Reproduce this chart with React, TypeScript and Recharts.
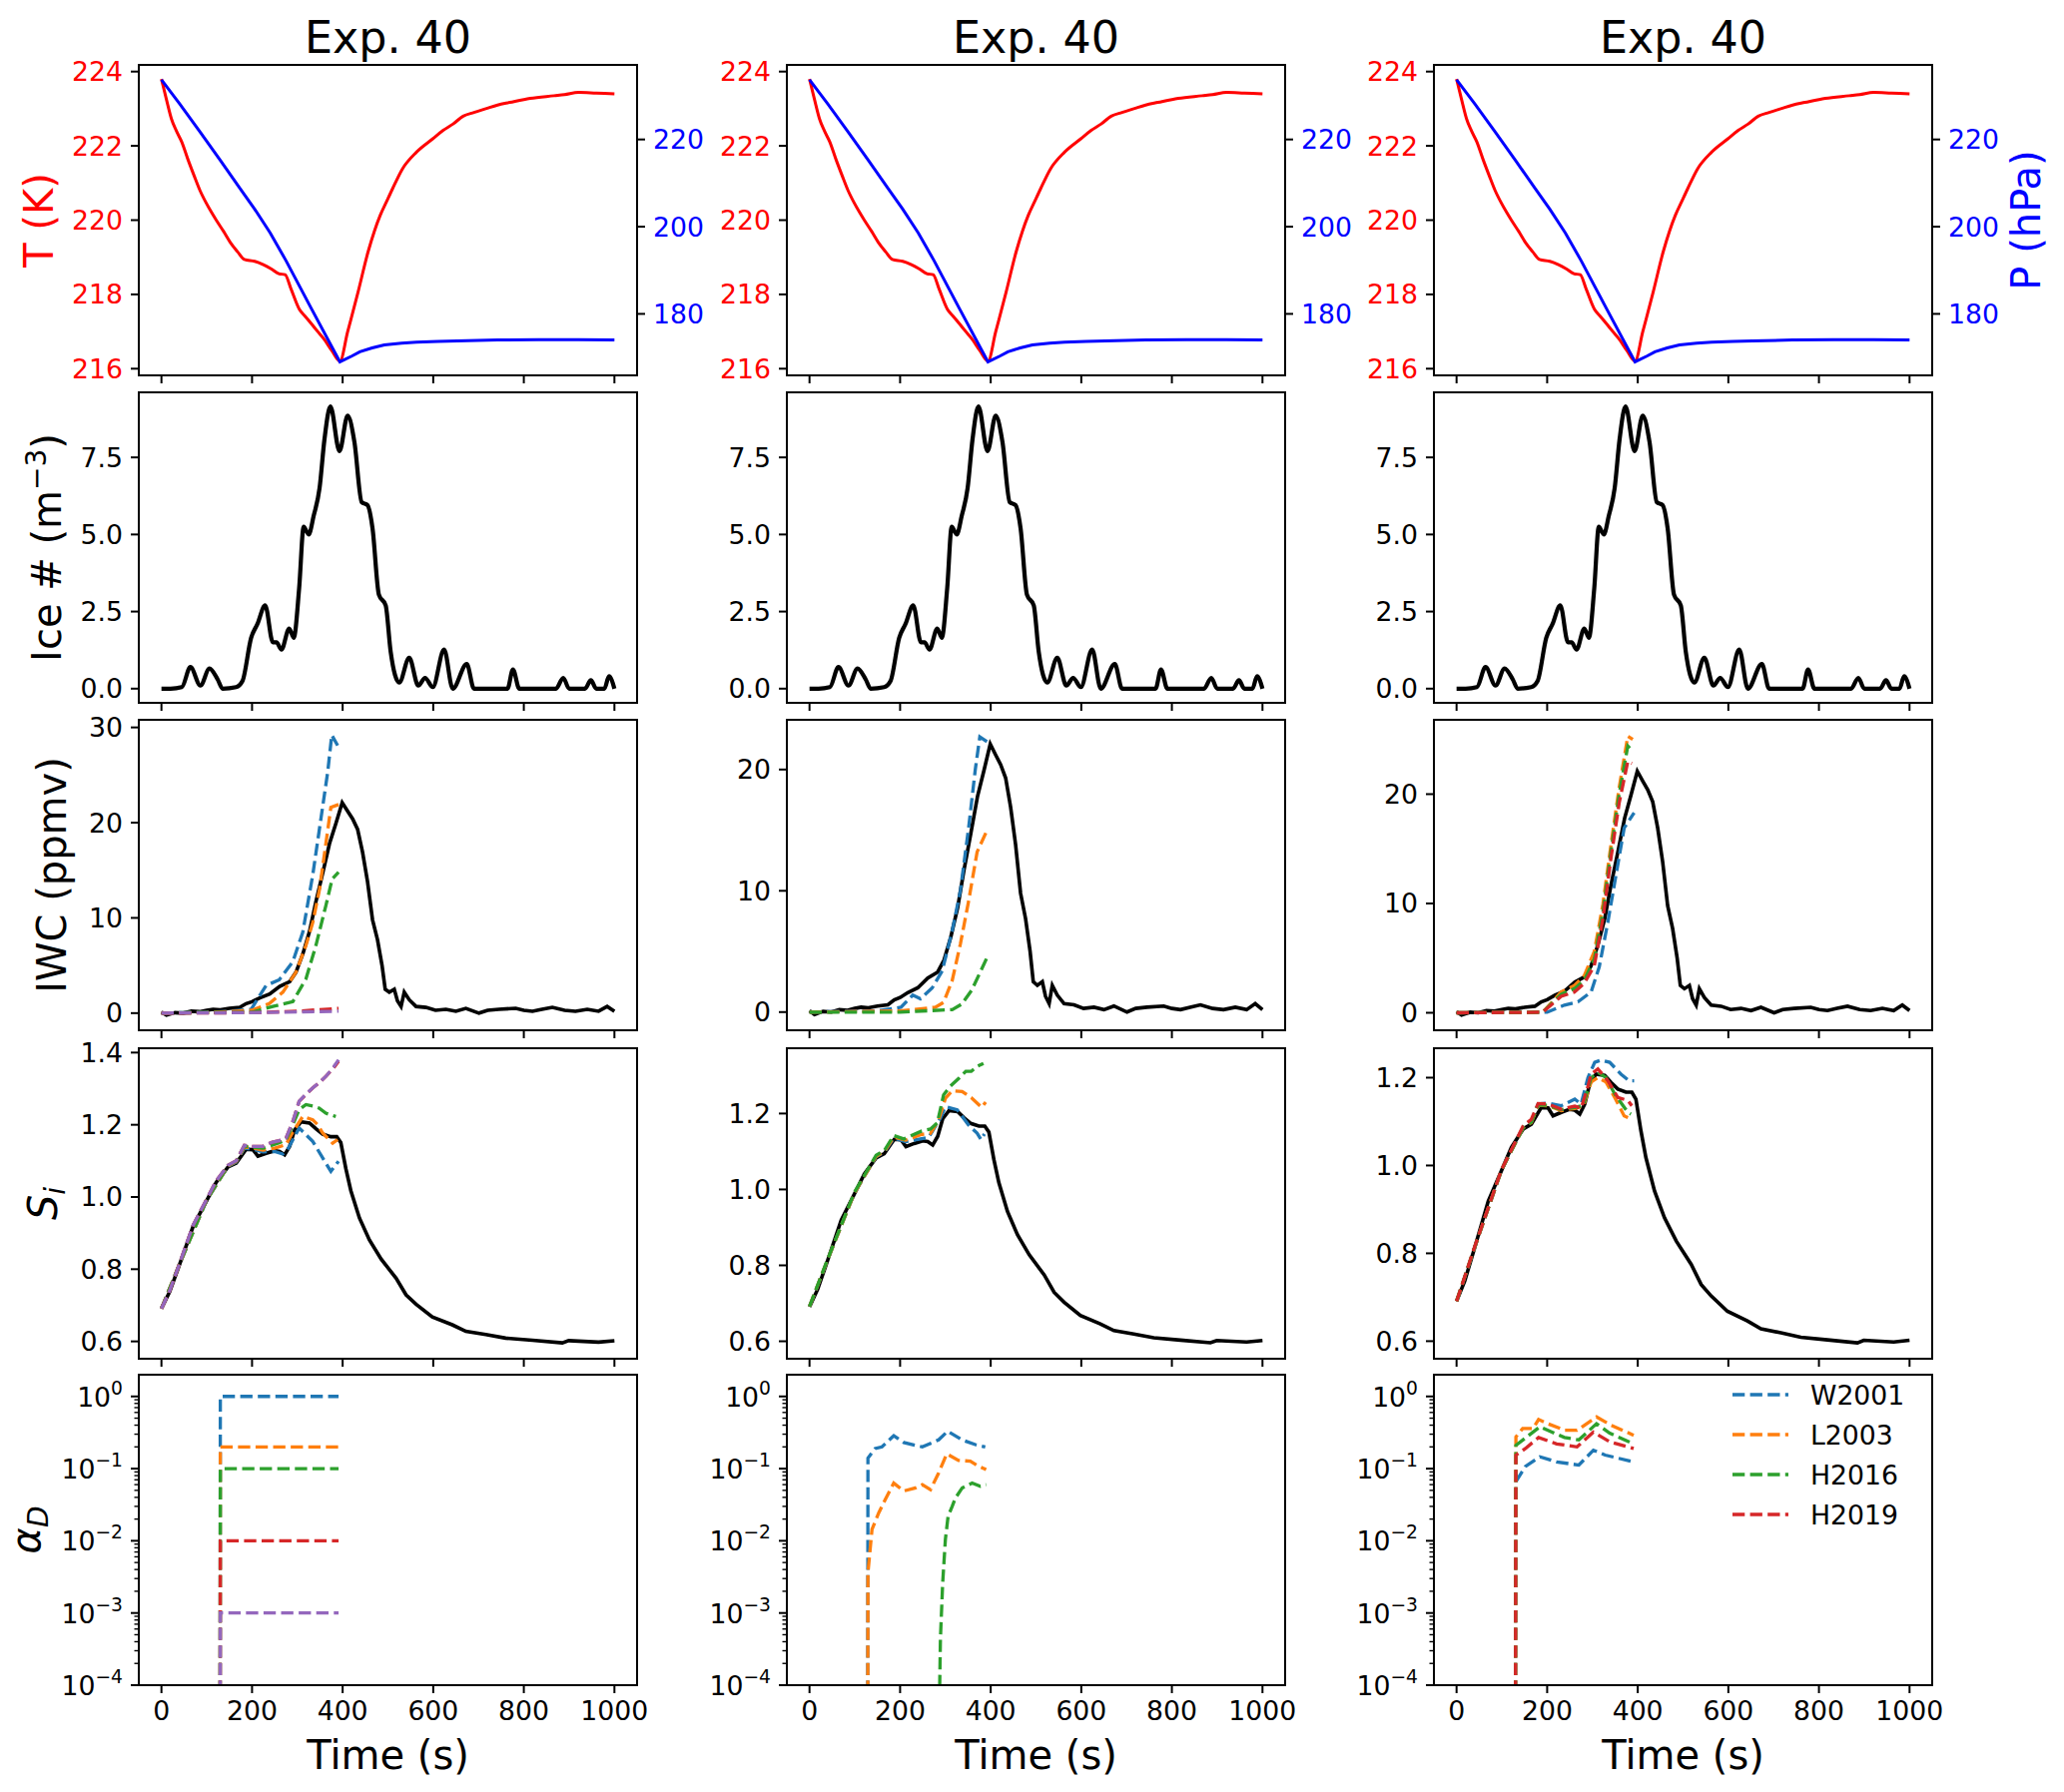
import React from 'react'
import { LineChart, Line, XAxis, YAxis, Legend } from 'recharts'

type Pt = [number, number]

// chamber record (identical in the three columns)
const tempK: Pt[] = [
  [0, 223.8], [11, 223.25], [22, 222.73], [33, 222.4], [45, 222.1], [58, 221.65], [72, 221.2], [85, 220.8],
  [98, 220.48], [110, 220.22], [121, 220.0], [137, 219.7], [152, 219.4], [168, 219.15],
  [183, 218.94], [206, 218.89], [225, 218.8], [242, 218.69], [259, 218.56], [273, 218.53], [286, 218.15],
  [304, 217.61], [318, 217.4], [331, 217.21], [345, 217.0], [358, 216.81], [376, 216.49], [394, 216.2], [411, 216.99],
  [434, 218.06], [456, 219.14], [470, 219.7], [483, 220.13], [497, 220.5], [510, 220.84], [532, 221.38], [563, 221.83],
  [599, 222.19], [622, 222.42], [644, 222.59], [666, 222.8], [690, 222.9], [716, 223.0], [742, 223.1], [769, 223.17], [814, 223.28],
  [867, 223.35], [890, 223.38], [921, 223.44], [960, 223.42], [1000, 223.4],
]
const pressHPa: Pt[] = [
  [0, 233.7], [40, 228.2], [86, 221.6], [130, 215.2], [174, 208.7], [206, 204.0], [240, 198.6],
  [275, 192.2], [331, 181.2], [394, 169.0], [420, 170.3], [438, 171.3], [465, 172.2], [492, 172.9],
  [530, 173.3], [563, 173.5], [610, 173.7], [653, 173.8], [742, 174.0], [832, 174.1], [920, 174.1], [1000, 174.0],
]
const iceNumber: Pt[] = [
  [0, 0], [20, 0], [45, 0.05], [64, 0.7], [86, 0.1], [106, 0.65], [124, 0.3], [135, 0], [165, 0.05],
  [179, 0.25], [198, 1.65], [212, 2.1], [229, 2.7], [246, 1.5], [254, 1.5], [265, 1.27], [282, 1.95],
  [292, 1.65], [304, 3.26], [314, 5.25], [325, 5.0], [336, 5.6], [349, 6.5], [360, 8.1], [373, 9.15],
  [393, 7.7], [411, 8.85], [426, 8.0], [442, 6.05], [455, 5.95], [466, 5.2], [480, 3.05], [495, 2.7],
  [506, 1.2], [525, 0.2], [547, 1.0], [567, 0.1], [582, 0.35], [599, 0.05], [624, 1.27], [643, 0],
  [674, 0.8], [690, 0], [764, 0], [776, 0.62], [790, 0], [871, 0], [887, 0.35], [900, 0], [935, 0],
  [948, 0.27], [960, 0], [978, 0], [988, 0.4], [1000, 0],
]
const iwcObs: Pt[] = [
  [0, 0.1], [11, -0.2], [30, 0.05], [48, 0], [66, 0.2], [84, 0.15], [100, 0.3], [114, 0.4], [130, 0.35],
  [150, 0.5], [173, 0.6], [187, 1.0], [200, 1.2], [217, 1.6], [239, 2.0], [261, 2.8], [283, 3.3],
  [297, 4.3], [312, 6.2], [327, 8.6], [341, 11.7], [356, 14.7], [371, 17.8], [385, 19.9], [399, 22.1],
  [411, 21.2], [422, 20.4], [433, 19.3], [444, 16.9], [455, 13.8], [466, 9.8], [477, 7.7], [487, 5.0],
  [494, 2.5], [503, 2.2], [514, 2.5], [521, 1.3], [529, 0.7], [536, 2.2], [547, 1.4], [562, 0.7],
  [584, 0.6], [605, 0.3], [628, 0.4], [650, 0.2], [672, 0.5], [701, 0], [720, 0.3], [745, 0.4],
  [782, 0.5], [800, 0.3], [819, 0.2], [840, 0.4], [863, 0.6], [890, 0.3], [914, 0.2], [940, 0.4],
  [965, 0.2], [984, 0.7], [1000, 0.2],
]
const siObs: Pt[] = [
  [0, 0.691], [18, 0.737], [40, 0.813], [70, 0.919], [99, 0.988], [121, 1.041], [147, 1.083],
  [165, 1.094], [187, 1.132], [202, 1.131], [213, 1.113], [231, 1.121], [250, 1.128], [261, 1.126],
  [272, 1.117], [283, 1.14], [294, 1.186], [308, 1.208], [327, 1.205], [341, 1.189], [356, 1.174],
  [374, 1.167], [387, 1.167], [396, 1.151], [407, 1.079], [418, 1.018], [437, 0.942], [459, 0.881],
  [485, 0.828], [518, 0.775], [540, 0.729], [562, 0.703], [598, 0.668], [642, 0.646], [672, 0.628],
  [716, 0.619], [760, 0.609], [819, 0.603], [885, 0.596], [899, 0.602], [965, 0.598], [1000, 0.602],
]

// column 1 models
const iwcW2001A: Pt[] = [[0, 0], [100, 0.1], [150, 0.2], [198, 0.4], [231, 2.9], [260, 3.5], [290, 5.4], [312, 8.5], [334, 14.5], [352, 20.4], [367, 25.3], [376, 29.2], [389, 28.1]]
const iwcL2003A: Pt[] = [[0, 0], [100, 0.05], [200, 0.3], [238, 1.0], [268, 2.2], [297, 4.3], [319, 7.1], [334, 9.5], [349, 13.0], [363, 17.8], [374, 21.6], [391, 21.9]]
const iwcH2016A: Pt[] = [[0, 0], [200, 0.1], [246, 0.7], [290, 1.2], [319, 3.6], [341, 7.1], [363, 11.3], [377, 14.1], [391, 14.8]]
const iwcH2019A: Pt[] = [[0, 0], [200, 0.05], [300, 0.2], [391, 0.5]]
const iwcExtraA: Pt[] = [[0, 0], [200, 0.05], [391, 0.2]]
const siW2001A: Pt[] = [[0, 0.691], [40, 0.814], [99, 0.989], [147, 1.085], [165, 1.097], [183, 1.135], [202, 1.132], [224, 1.125], [250, 1.126], [268, 1.119], [280, 1.135], [304, 1.191], [334, 1.154], [356, 1.108], [374, 1.071], [391, 1.099]]
const siL2003A: Pt[] = [[0, 0.691], [40, 0.815], [99, 0.99], [147, 1.086], [165, 1.098], [183, 1.138], [202, 1.136], [224, 1.13], [250, 1.135], [275, 1.145], [290, 1.18], [312, 1.223], [334, 1.214], [345, 1.2], [356, 1.177], [378, 1.149], [389, 1.159]]
const siH2016A: Pt[] = [[0, 0.691], [40, 0.815], [99, 0.99], [147, 1.087], [165, 1.099], [183, 1.14], [224, 1.135], [260, 1.15], [275, 1.158], [290, 1.2], [304, 1.242], [319, 1.256], [335, 1.252], [348, 1.246], [363, 1.232], [385, 1.223]]
const siH2019A: Pt[] = [[0, 0.691], [18, 0.74], [40, 0.816], [70, 0.922], [99, 0.992], [121, 1.045], [147, 1.088], [165, 1.1], [183, 1.143], [200, 1.14], [224, 1.14], [245, 1.152], [260, 1.156], [275, 1.163], [290, 1.209], [304, 1.265], [320, 1.285], [334, 1.302], [350, 1.318], [363, 1.334], [380, 1.357], [391, 1.376]]
const siExtraA: Pt[] = [[0, 0.691], [18, 0.74], [40, 0.816], [70, 0.922], [99, 0.992], [121, 1.045], [147, 1.088], [165, 1.1], [183, 1.143], [200, 1.14], [224, 1.14], [245, 1.152], [260, 1.156], [275, 1.163], [290, 1.209], [304, 1.265], [320, 1.286], [334, 1.302], [350, 1.319], [363, 1.334], [380, 1.36], [391, 1.38]]
const alphaW2001A: Pt[] = [[129, 1e-8], [130, 1], [391, 1]]
const alphaL2003A: Pt[] = [[129, 1e-8], [130, 0.2], [391, 0.2]]
const alphaH2016A: Pt[] = [[129, 1e-8], [130, 0.1], [391, 0.1]]
const alphaH2019A: Pt[] = [[129, 1e-8], [130, 0.01], [391, 0.01]]
const alphaExtraA: Pt[] = [[129, 1e-8], [130, 0.001], [391, 0.001]]

// column 2 models
const iwcW2001B: Pt[] = [[0, 0], [150, 0.1], [202, 0.4], [228, 1.4], [245, 1.1], [271, 2.0], [293, 3.4], [315, 6.7], [333, 10.0], [351, 15.1], [366, 20.0], [376, 22.7], [392, 22.3]]
const iwcL2003B: Pt[] = [[0, 0], [200, 0.1], [278, 0.4], [296, 0.8], [315, 2.6], [333, 5.6], [351, 9.1], [370, 13.2], [392, 15.0]]
const iwcH2016B: Pt[] = [[0, 0], [200, 0], [315, 0.2], [336, 0.65], [358, 1.8], [377, 3.3], [392, 4.5]]
const siW2001B: Pt[] = [[0, 0.692], [40, 0.815], [99, 0.99], [147, 1.086], [165, 1.098], [186, 1.135], [212, 1.126], [263, 1.137], [289, 1.188], [300, 1.218], [326, 1.21], [351, 1.17], [370, 1.148], [379, 1.131], [386, 1.146]]
const siL2003B: Pt[] = [[0, 0.692], [40, 0.815], [99, 0.99], [147, 1.087], [165, 1.099], [186, 1.138], [212, 1.13], [248, 1.145], [267, 1.148], [285, 1.183], [300, 1.24], [315, 1.26], [337, 1.258], [359, 1.24], [380, 1.216], [389, 1.23]]
const siH2016B: Pt[] = [[0, 0.692], [40, 0.816], [99, 0.992], [147, 1.09], [165, 1.102], [186, 1.142], [208, 1.133], [248, 1.154], [267, 1.159], [282, 1.175], [296, 1.249], [310, 1.271], [330, 1.293], [345, 1.311], [357, 1.311], [370, 1.324], [384, 1.332]]
const alphaW2001B: Pt[] = [[128, 1e-8], [129, 0.14], [145, 0.19], [160, 0.2], [186, 0.286], [208, 0.23], [249, 0.2], [285, 0.25], [305, 0.33], [337, 0.25], [366, 0.215], [388, 0.2]]
const alphaL2003B: Pt[] = [[128, 1e-8], [129, 0.0036], [138, 0.0144], [153, 0.0245], [167, 0.037], [186, 0.063], [208, 0.049], [234, 0.054], [249, 0.06], [267, 0.051], [285, 0.087], [303, 0.16], [329, 0.13], [355, 0.127], [373, 0.108], [390, 0.097]]
const alphaH2016B: Pt[] = [[285, 1e-5], [289, 4.4e-4], [294, 0.0026], [300, 0.0105], [306, 0.022], [315, 0.03], [322, 0.039], [337, 0.054], [359, 0.063], [377, 0.057], [390, 0.06]]

// column 3 models
const iwcW2001C: Pt[] = [[0, 0], [200, 0.05], [238, 0.7], [268, 1.0], [297, 1.9], [315, 4.2], [334, 8.3], [352, 12.6], [370, 16.9], [392, 18.3]]
const iwcL2003C: Pt[] = [[0, 0], [190, 0.05], [231, 1.9], [260, 2.5], [282, 3.4], [304, 5.6], [323, 9.9], [341, 15.4], [359, 20.6], [378, 25.3], [389, 25.0]]
const iwcH2016C: Pt[] = [[0, 0], [190, 0.05], [231, 1.7], [260, 2.2], [282, 3.0], [304, 4.9], [323, 9.2], [341, 14.8], [359, 20.0], [378, 24.4], [389, 23.9]]
const iwcH2019C: Pt[] = [[0, 0], [190, 0.05], [231, 1.5], [260, 1.9], [282, 2.7], [304, 4.3], [323, 8.6], [341, 14.2], [359, 19.2], [378, 23.0], [387, 22.8]]
const siW2001C: Pt[] = [[0, 0.691], [40, 0.814], [99, 0.989], [147, 1.087], [165, 1.1], [180, 1.14], [202, 1.142], [231, 1.136], [261, 1.151], [275, 1.14], [290, 1.2], [305, 1.235], [319, 1.24], [338, 1.235], [363, 1.208], [381, 1.193], [392, 1.193]]
const siL2003C: Pt[] = [[0, 0.691], [40, 0.814], [99, 0.989], [147, 1.086], [165, 1.098], [180, 1.137], [202, 1.136], [231, 1.125], [261, 1.13], [280, 1.135], [297, 1.19], [312, 1.2], [330, 1.19], [349, 1.155], [370, 1.113], [385, 1.106]]
const siH2016C: Pt[] = [[0, 0.691], [40, 0.814], [99, 0.989], [147, 1.086], [165, 1.099], [180, 1.138], [202, 1.137], [231, 1.127], [261, 1.132], [280, 1.137], [297, 1.2], [312, 1.212], [330, 1.2], [349, 1.163], [378, 1.121], [385, 1.117]]
const siH2019C: Pt[] = [[0, 0.691], [40, 0.815], [99, 0.99], [147, 1.09], [165, 1.105], [180, 1.141], [202, 1.14], [231, 1.128], [261, 1.135], [275, 1.13], [290, 1.18], [297, 1.208], [312, 1.22], [334, 1.193], [356, 1.155], [378, 1.148], [387, 1.136]]
const alphaW2001C: Pt[] = [[129, 1e-8], [131, 0.066], [152, 0.107], [184, 0.146], [221, 0.124], [270, 0.112], [302, 0.18], [328, 0.154], [391, 0.124]]
const alphaL2003C: Pt[] = [[129, 1e-8], [131, 0.275], [146, 0.36], [169, 0.36], [181, 0.48], [201, 0.42], [239, 0.34], [266, 0.34], [309, 0.52], [341, 0.4], [391, 0.29]]
const alphaH2016C: Pt[] = [[129, 1e-8], [131, 0.21], [184, 0.38], [238, 0.27], [270, 0.25], [309, 0.42], [338, 0.31], [391, 0.22]]
const alphaH2019C: Pt[] = [[129, 1e-8], [131, 0.154], [152, 0.19], [181, 0.27], [221, 0.22], [266, 0.2], [302, 0.32], [338, 0.235], [391, 0.19]]

const timeTicks = [0, 200, 400, 600, 800, 1000]
const tempTicks = [216, 218, 220, 222, 224]
const pressTicks = [180, 200, 220]
const iceTicks = [0, 2.5, 5, 7.5]
const iwcTicksA = [0, 10, 20, 30]
const iwcTicksB = [0, 10, 20]
const siTicksA = [0.6, 0.8, 1.0, 1.2, 1.4]
const siTicksB = [0.6, 0.8, 1.0, 1.2]
const legendNames = ['W2001', 'L2003', 'H2016', 'H2019']

const colors: Record<string, string> = {
  W2001: '#1f77b4',
  L2003: '#ff7f0e',
  H2016: '#2ca02c',
  H2019: '#d62728',
  extra: '#9467bd',
}

// log axis ticks: decades plus 2..9 minors
const alphaTicks: number[] = []
for (let e = -4; e <= 0; e++) {
  for (let k = 1; k <= 9; k++) {
    const v = k * Math.pow(10, e)
    if (v < 1.99) alphaTicks.push(v)
  }
}

const FONT = 'DejaVu Sans, Verdana, sans-serif'
const TICK_FS = 26.7
const LABEL_FS = 40
const TICK_LEN = 8
const TICK_PAD = 8
const AX_L = 140
const AX_R = 120
const RM = 10
const TOP_M = 12
const AX_B = 60
const PW = 499
const PH = 311
const colLeft = [139, 788, 1436]
const rowTop = [65, 393, 721, 1050, 1377]
const DASH = '12.3 5.3'

type Model = { name: string; pts: Pt[] }

const toRows = (pts: Pt[]) => pts.map(([t, v]) => ({ t, v }))
const oneDecimal = (v: number) => v.toFixed(1)

const columns = [
  {
    iwcDomain: [-1.8, 30.8] as [number, number], iwcTicks: iwcTicksA,
    siDomain: [0.552, 1.412] as [number, number], siTicks: siTicksA,
    iwc: [
      { name: 'W2001', pts: iwcW2001A }, { name: 'L2003', pts: iwcL2003A }, { name: 'H2016', pts: iwcH2016A },
      { name: 'H2019', pts: iwcH2019A }, { name: 'extra', pts: iwcExtraA },
    ],
    si: [
      { name: 'W2001', pts: siW2001A }, { name: 'L2003', pts: siL2003A }, { name: 'H2016', pts: siH2016A },
      { name: 'H2019', pts: siH2019A }, { name: 'extra', pts: siExtraA },
    ],
    alpha: [
      { name: 'W2001', pts: alphaW2001A }, { name: 'L2003', pts: alphaL2003A }, { name: 'H2016', pts: alphaH2016A },
      { name: 'H2019', pts: alphaH2019A }, { name: 'extra', pts: alphaExtraA },
    ],
  },
  {
    iwcDomain: [-1.5, 24.1] as [number, number], iwcTicks: iwcTicksB,
    siDomain: [0.554, 1.372] as [number, number], siTicks: siTicksB,
    iwc: [{ name: 'W2001', pts: iwcW2001B }, { name: 'L2003', pts: iwcL2003B }, { name: 'H2016', pts: iwcH2016B }],
    si: [{ name: 'W2001', pts: siW2001B }, { name: 'L2003', pts: siL2003B }, { name: 'H2016', pts: siH2016B }],
    alpha: [{ name: 'W2001', pts: alphaW2001B }, { name: 'L2003', pts: alphaL2003B }, { name: 'H2016', pts: alphaH2016B }],
  },
  {
    iwcDomain: [-1.6, 26.8] as [number, number], iwcTicks: iwcTicksB,
    siDomain: [0.56, 1.267] as [number, number], siTicks: siTicksB,
    iwc: [
      { name: 'W2001', pts: iwcW2001C }, { name: 'L2003', pts: iwcL2003C },
      { name: 'H2016', pts: iwcH2016C }, { name: 'H2019', pts: iwcH2019C },
    ],
    si: [
      { name: 'W2001', pts: siW2001C }, { name: 'L2003', pts: siL2003C },
      { name: 'H2016', pts: siH2016C }, { name: 'H2019', pts: siH2019C },
    ],
    alpha: [
      { name: 'W2001', pts: alphaW2001C }, { name: 'L2003', pts: alphaL2003C },
      { name: 'H2016', pts: alphaH2016C }, { name: 'H2019', pts: alphaH2019C },
    ],
  },
]

const tickStyle = (fill: string) => ({ fill, fontSize: TICK_FS, fontFamily: FONT })
const tickLineStyle = { stroke: '#000', strokeWidth: 2 }

function timeAxis(showLabels: boolean) {
  return {
    type: 'number' as const,
    dataKey: 't',
    domain: [-50, 1050],
    ticks: timeTicks,
    interval: 0 as const,
    allowDataOverflow: true,
    axisLine: false,
    tickSize: TICK_LEN,
    tickMargin: TICK_PAD,
    height: AX_B,
    tickLine: tickLineStyle,
    tick: tickStyle('#000'),
    tickFormatter: showLabels ? (v: number) => String(v) : () => '',
  }
}

// decade labels as 10^n with minor ticks drawn shorter
function LogTick(props: any) {
  const { x, y, payload } = props
  const v = payload.value as number
  const lg = Math.log10(v)
  const e = Math.round(lg)
  const major = Math.abs(lg - e) < 1e-6
  const edge = x + TICK_LEN + TICK_PAD
  return (
    <g>
      <line x1={edge - (major ? TICK_LEN : 4.5)} x2={edge} y1={y} y2={y} stroke="#000" strokeWidth={major ? 2 : 1.4} />
      {major && (
        <text x={edge - TICK_LEN - TICK_PAD} y={y + 10} textAnchor="end" fontFamily={FONT} fontSize={TICK_FS} fill="#000">
          10<tspan dy={-12} fontSize={18.7}>{e === 0 ? '0' : '\u2212' + Math.abs(e)}</tspan>
        </text>
      )}
    </g>
  )
}

function LegendBox(props: any) {
  const items = (props.payload || [])
    .filter((p: any) => legendNames.includes(p.value))
    .sort((a: any, b: any) => legendNames.indexOf(a.value) - legendNames.indexOf(b.value))
  return (
    <div style={{ fontFamily: FONT, fontSize: TICK_FS }}>
      {items.map((p: any) => (
        <div key={p.value} style={{ display: 'flex', alignItems: 'center', height: 40 }}>
          <svg width={56} height={8}>
            <line x1={0} x2={56} y1={4} y2={4} stroke={p.color} strokeWidth={3.3} strokeDasharray={DASH} />
          </svg>
          <span style={{ marginLeft: 22, color: '#000' }}>{p.value}</span>
        </div>
      ))}
    </div>
  )
}

interface PanelProps {
  col: number
  row: number
  domain: [number, number]
  ticks: number[]
  fmt?: (v: number) => string
  log?: boolean
  obs?: Pt[]
  obsWidth?: number
  smooth?: boolean
  models?: Model[]
  legend?: boolean
}

function Panel({ col, row, domain, ticks, fmt, log, obs, obsWidth = 3.6, smooth, models = [], legend }: PanelProps) {
  const w = AX_L + PW + RM
  const h = TOP_M + PH + AX_B
  return (
    <div style={{ position: 'absolute', left: colLeft[col] - AX_L, top: rowTop[row] - TOP_M, width: w, height: h }}>
      <LineChart width={w} height={h} margin={{ top: TOP_M, right: RM, bottom: 0, left: 0 }}>
        <XAxis {...timeAxis(row === 4)} />
        {log ? (
          <YAxis
            scale="log"
            type="number"
            domain={domain}
            ticks={ticks}
            interval={0}
            allowDataOverflow
            width={AX_L}
            axisLine={false}
            tickLine={false}
            tickSize={TICK_LEN}
            tickMargin={TICK_PAD}
            tick={<LogTick />}
          />
        ) : (
          <YAxis
            type="number"
            domain={domain}
            ticks={ticks}
            interval={0}
            allowDataOverflow
            width={AX_L}
            axisLine={false}
            tickLine={tickLineStyle}
            tickSize={TICK_LEN}
            tickMargin={TICK_PAD}
            tick={tickStyle('#000')}
            tickFormatter={fmt}
          />
        )}
        {obs && (
          <Line
            data={toRows(obs)}
            dataKey="v"
            name="obs"
            legendType="none"
            type={smooth ? 'monotone' : 'linear'}
            stroke="#000"
            strokeWidth={obsWidth}
            dot={false}
            isAnimationActive={false}
          />
        )}
        {models.map((m) => (
          <Line
            key={m.name}
            data={toRows(m.pts)}
            dataKey="v"
            name={m.name}
            type="linear"
            stroke={colors[m.name]}
            strokeWidth={3.3}
            strokeDasharray={DASH}
            dot={false}
            isAnimationActive={false}
          />
        ))}
        {legend && (
          <Legend
            layout="vertical"
            align="center"
            verticalAlign="middle"
            wrapperStyle={{ left: 439, top: 12, width: 200 }}
            content={(p: any) => <LegendBox {...p} />}
          />
        )}
      </LineChart>
    </div>
  )
}

function TempPressPanel({ col }: { col: number }) {
  const w = AX_L + PW + AX_R
  const h = TOP_M + PH + AX_B
  return (
    <div style={{ position: 'absolute', left: colLeft[col] - AX_L, top: rowTop[0] - TOP_M, width: w, height: h }}>
      <LineChart width={w} height={h} margin={{ top: TOP_M, right: 0, bottom: 0, left: 0 }}>
        <XAxis {...timeAxis(false)} />
        <YAxis
          yAxisId="t"
          type="number"
          domain={[215.82, 224.18]}
          ticks={tempTicks}
          interval={0}
          allowDataOverflow
          width={AX_L}
          axisLine={false}
          tickLine={tickLineStyle}
          tickSize={TICK_LEN}
          tickMargin={TICK_PAD}
          tick={tickStyle('#ff0000')}
        />
        <YAxis
          yAxisId="p"
          orientation="right"
          type="number"
          domain={[165.9, 237.1]}
          ticks={pressTicks}
          interval={0}
          allowDataOverflow
          width={AX_R}
          axisLine={false}
          tickLine={tickLineStyle}
          tickSize={TICK_LEN}
          tickMargin={TICK_PAD}
          tick={tickStyle('#0000ff')}
        />
        <Line yAxisId="t" data={toRows(tempK)} dataKey="v" name="T" type="monotone" stroke="#ff0000" strokeWidth={3} dot={false} isAnimationActive={false} />
        <Line yAxisId="p" data={toRows(pressHPa)} dataKey="v" name="P" type="linear" stroke="#0000ff" strokeWidth={3} dot={false} isAnimationActive={false} />
      </LineChart>
    </div>
  )
}

function RotLabel({ x, y, fill = '#000', children }: { x: number; y: number; fill?: string; children: React.ReactNode }) {
  return (
    <text x={x} y={y} transform={`rotate(-90 ${x} ${y})`} textAnchor="middle" fontFamily={FONT} fontSize={LABEL_FS} fill={fill}>
      {children}
    </text>
  )
}

export default function App() {
  const centers = colLeft.map((l) => l + PW / 2)
  const mid = (r: number) => rowTop[r] + PH / 2
  return (
    <div style={{ position: 'absolute', left: 0, top: 0, width: 2067, height: 1795, background: '#fff', overflow: 'hidden' }}>
      {columns.map((c, i) => (
        <React.Fragment key={i}>
          <TempPressPanel col={i} />
          <Panel col={i} row={1} domain={[-0.46, 9.61]} ticks={iceTicks} fmt={oneDecimal} obs={iceNumber} obsWidth={4.2} smooth />
          <Panel col={i} row={2} domain={c.iwcDomain} ticks={c.iwcTicks} obs={iwcObs} models={c.iwc} />
          <Panel col={i} row={3} domain={c.siDomain} ticks={c.siTicks} fmt={oneDecimal} obs={siObs} models={c.si} />
          <Panel col={i} row={4} domain={[1e-4, 2]} ticks={alphaTicks} log models={c.alpha} legend={i === 2} />
        </React.Fragment>
      ))}
      <svg width={2067} height={1795} style={{ position: 'absolute', left: 0, top: 0, pointerEvents: 'none' }}>
        {colLeft.map((l) =>
          rowTop.map((t) => (
            <rect key={`${l}-${t}`} x={l} y={t} width={PW} height={PH} fill="none" stroke="#000" strokeWidth={2} />
          )),
        )}
        {centers.map((cx, i) => (
          <React.Fragment key={i}>
            <text x={cx} y={53} textAnchor="middle" fontFamily={FONT} fontSize={44.4} fill="#000">Exp. 40</text>
            <text x={cx} y={1772} textAnchor="middle" fontFamily={FONT} fontSize={LABEL_FS} fill="#000">Time (s)</text>
          </React.Fragment>
        ))}
        <RotLabel x={53} y={mid(0)} fill="#ff0000">T (K)</RotLabel>
        <RotLabel x={61} y={mid(1)}>
          Ice # (m<tspan dy={-15} fontSize={28}>{'\u22123'}</tspan><tspan dy={15}>)</tspan>
        </RotLabel>
        <RotLabel x={66} y={mid(2)}>IWC (ppmv)</RotLabel>
        <RotLabel x={57} y={mid(3)}>
          <tspan fontStyle="italic">S</tspan><tspan fontStyle="italic" fontSize={28} dy={8}>i</tspan>
        </RotLabel>
        <RotLabel x={40} y={mid(4)}>
          <tspan fontStyle="italic">α</tspan><tspan fontStyle="italic" fontSize={28} dy={8}>D</tspan>
        </RotLabel>
        <RotLabel x={2043} y={mid(0)} fill="#0000ff">P (hPa)</RotLabel>
      </svg>
    </div>
  )
}
